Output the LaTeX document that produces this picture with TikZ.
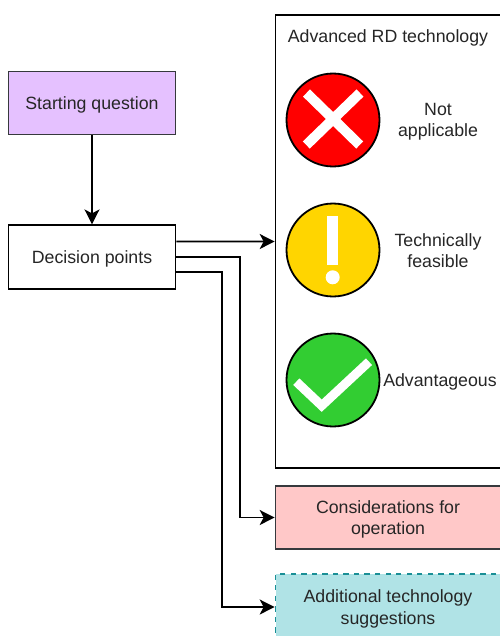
\documentclass[tikz,border=0pt]{standalone}
\usepackage{fontspec}
\setmainfont{Liberation Sans}
\usetikzlibrary{arrows.meta}
\definecolor{lilac}{HTML}{E5C1FF}
\definecolor{blush}{HTML}{FFC8C8}
\definecolor{paleteal}{HTML}{B0E3E6}
\definecolor{darkteal}{HTML}{1A8F96}
\definecolor{edgegrey}{HTML}{36393D}
\definecolor{signred}{HTML}{FF0000}
\definecolor{signyellow}{HTML}{FFD500}
\definecolor{signgreen}{HTML}{32CD32}
\tikzset{
  box/.style={draw=black, line width=0.034cm, rectangle, align=center, text depth=0pt, font=\fontsize{10.1}{12.2}\selectfont, text=black!85},
  label/.style={align=center, text depth=0pt, font=\fontsize{10.1}{12.2}\selectfont, text=black!85},
  sign/.style={draw=black, line width=0.036cm, circle, minimum size=1.86cm, inner sep=0pt},
  mark line/.style={white, line width=0.2cm},
  link/.style={line width=0.034cm, -{Stealth[length=0.3cm, width=0.3cm, inset=0.08cm]}}
}

\begin{document}
\begin{tikzpicture}[x=0.02cm, y=-0.02cm]
            \useasboundingbox (0,0) rectangle (500,636);
            % Left column
            \node[box, fill=lilac, draw=edgegrey, minimum width=3.34cm, minimum height=1.26cm] (start) at (92,103) {Starting question};
            \node[box, fill=white, minimum width=3.34cm, minimum height=1.27cm] (decision) at (92,257) {Decision points};

            % Right column
            \node[box, fill=white, minimum width=4.5cm, minimum height=9.06cm] (tech) at (388,241.5) {};
            \node[box, fill=blush, draw=edgegrey, minimum width=4.5cm, minimum height=1.25cm] (operation) at (388,517.5) {Considerations for\\operation};
            \node[box, fill=paleteal, draw=darkteal, dashed, minimum width=4.5cm, minimum height=1.32cm] (extra) at (388,607) {Additional technology\\suggestions};
            \node[label] (techtitle) at (388,36.5) {Advanced RD technology};

            % Signs
            \node[sign, fill=signred] (no) at (333,120) {};
            \node[sign, fill=signyellow] (maybe) at (333,250) {};
            \node[sign, fill=signgreen] (yes) at (333,380) {};
            \node[label] (notext) at (438,120) {Not\\applicable};
            \node[label] (maybetext) at (438,250.5) {Technically\\feasible};
            \node[label] (yestext) at (440,380) {Advantageous};

            % Marks on the signs
            \draw[mark line] (306.5,93) -- (359.7,145);
            \draw[mark line] (360,93) -- (306.3,145);
            \fill[white] (327.3,216) rectangle (338.3,265);
            \fill[white] (332.7,277.3) circle (7);
            \draw[mark line, line width=0.18cm, miter limit=10] (296.3,381.7) -- (321.7,405.7) -- (369,361.7);

            % Connectors
            \draw[link] (start) -- (decision);
            \draw[link] ([yshift=0.31cm]decision.east) -- (tech.west);
            \draw[link] (decision.east) -| (240,517.5) -- (operation.west);
            \draw[link] ([yshift=-0.3cm]decision.east) -| (222,607) -- (extra.west);
\end{tikzpicture}
\end{document}
